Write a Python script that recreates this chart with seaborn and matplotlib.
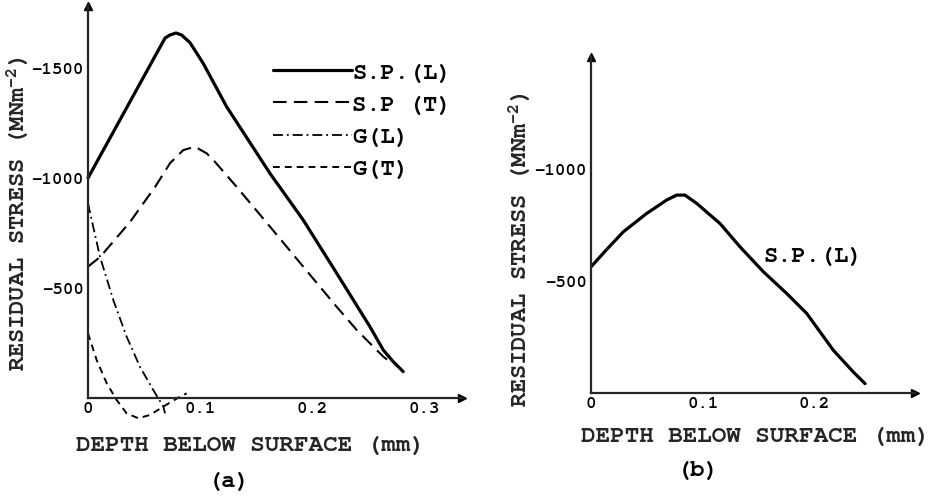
import numpy as np
import pandas as pd
import matplotlib
matplotlib.use("Agg")
import matplotlib.pyplot as plt
from matplotlib import font_manager as fm
import seaborn as sns
import logging
logging.getLogger("matplotlib.font_manager").setLevel(logging.ERROR)

# ---------------- data ----------------
# Panel (a): depth in mm, residual stress in MN m^-2 (compressive negative)
spl_a_depth = [0.000, 0.020, 0.040, 0.060, 0.0688, 0.0732, 0.0786, 0.0836, 0.0911,
               0.1029, 0.1238, 0.1625, 0.1922, 0.2221, 0.2518, 0.2637, 0.2726, 0.2815]
spl_a_stress = [-1000, -1185, -1370, -1555, -1636, -1650, -1659, -1650, -1615,
                -1521, -1324, -1021, -809, -567, -324, -218, -165, -120]

spt_a_depth = [0.000, 0.011, 0.0375, 0.060, 0.0732, 0.0851, 0.0955, 0.106, 0.1119,
               0.1327, 0.1625, 0.1922, 0.222, 0.240, 0.2637, 0.2696]
spt_a_stress = [-597, -642, -800, -960, -1067, -1127, -1142, -1112, -1082,
                -960, -779, -597, -415, -309, -188, -165]

gl_a_depth = [0.000, 0.0033, 0.0107, 0.0226, 0.0345, 0.0464, 0.0583, 0.0673, 0.0688]
gl_a_stress = [-885, -809, -642, -445, -279, -142, -36, 39, 70]

gt_a_depth = [0.000, 0.0077, 0.0167, 0.0256, 0.0345, 0.0449, 0.0554, 0.0673, 0.0821, 0.0881]
gt_a_stress = [-294, -173, -67, 9, 70, 92, 77, 39, -6, -21]

# Panel (b)
spl_b_depth = [0.000, 0.0134, 0.0289, 0.0498, 0.0677, 0.0767, 0.0841, 0.0946, 0.1155,
               0.1334, 0.1543, 0.1752, 0.1931, 0.2169, 0.2348, 0.2453]
spl_b_stress = [-564, -638, -720, -802, -862, -884, -884, -847, -757,
                -653, -542, -445, -356, -192, -95, -43]

series_labels_a = ["S.P.(L)", "S.P (T)", "G(L)", "G(T)"]
label_b = "S.P.(L)"

xticks_a = [0, 0.1, 0.2, 0.3]
xticklabels_a = ["0", "0.1", "0.2", "0.3"]
yticks_a = [-500, -1000, -1500]
yticklabels_a = ["\u2212500", "\u22121000", "\u22121500"]

xticks_b = [0, 0.1, 0.2]
xticklabels_b = ["0", "0.1", "0.2"]
yticks_b = [-500, -1000]
yticklabels_b = ["\u2212500", "\u22121000"]

ylabel_text = "RESIDUAL STRESS (MNm$^{\\mathrm{-2}}$)"
xlabel_text = "DEPTH BELOW SURFACE (mm)"

# ---------------- style ----------------
sns.set_style("white")
FAMILY = ["Courier New", "Nimbus Mono PS", "FreeMono", "Courier 10 Pitch",
          "Liberation Mono", "DejaVu Sans Mono"]
avail = {f.name for f in fm.fontManager.ttflist}
main_font = next((f for f in FAMILY if f in avail), "DejaVu Sans Mono")
plt.rcParams["font.family"] = FAMILY
plt.rcParams["font.weight"] = "bold"
plt.rcParams["axes.labelweight"] = "bold"
plt.rcParams["mathtext.fontset"] = "custom"
plt.rcParams["mathtext.rm"] = main_font + ":bold"
plt.rcParams["mathtext.it"] = main_font + ":bold"
plt.rcParams["mathtext.bf"] = main_font + ":bold"
plt.rcParams["axes.linewidth"] = 1.6
plt.rcParams["text.color"] = "black"
plt.rcParams["xtick.color"] = "black"
plt.rcParams["ytick.color"] = "black"

W, H = 934, 496
fig = plt.figure(figsize=(W / 100, H / 100), dpi=100)
fig.patch.set_facecolor("white")


def px_rect(x0, x1, y_top, y_bot):
    return [x0 / W, 1 - y_bot / H, (x1 - x0) / W, (y_bot - y_top) / H]


def style_axes(ax, xmax, ytop, ybot):
    ax.set_xlim(0, xmax)
    ax.set_ylim(ybot, ytop)
    ax.set_facecolor("none")
    for s in ["top", "right"]:
        ax.spines[s].set_visible(False)
    ax.spines["bottom"].set_position(("data", 0))
    ax.spines["bottom"].set_bounds(0, xmax)
    ax.spines["left"].set_bounds(ytop, 0)
    ax.tick_params(direction="in", length=5, width=1.3, labelsize=12.5, pad=3)
    ax.plot([0], [1], marker="^", ms=6, color="black",
            transform=ax.get_xaxis_transform(), clip_on=False)
    ax.plot([1], [0], marker=">", ms=6, color="black",
            transform=ax.get_yaxis_transform(), clip_on=False)


# ---------------- panel (a) ----------------
axA = fig.add_axes(px_rect(88, 462, 6.4, 431))
style_axes(axA, 0.334, -1780, 150)

dfa = [
    (spl_a_depth, spl_a_stress, "-", 2.3),
    (spt_a_depth, spt_a_stress, (0, (6.5, 3.5)), 1.5),
    (gl_a_depth, gl_a_stress, (0, (5.5, 2.2, 1.0, 2.2)), 1.3),
    (gt_a_depth, gt_a_stress, (0, (3.5, 2.6)), 1.4),
]
handles = []
for (d, s, ls, lw), lab in zip(dfa, series_labels_a):
    df = pd.DataFrame({"depth": d, "stress": s})
    sns.lineplot(data=df, x="depth", y="stress", ax=axA, sort=False, estimator=None,
                 color="black", linewidth=lw, linestyle=ls, label=lab, clip_on=False)
    handles.append(axA.get_lines()[-1])

axA.set_xticks(xticks_a)
axA.set_xticklabels(xticklabels_a)
axA.set_yticks(yticks_a)
axA.set_yticklabels(yticklabels_a)

axA.set_xlabel(xlabel_text, fontsize=17.5, va="center")
axA.xaxis.set_label_coords((251 - 88) / 374, 1 - (446 - 6.4) / 424.6)
axA.set_ylabel(ylabel_text, fontsize=17, va="center")
axA.yaxis.set_label_coords((18 - 88) / 374, 1 - (214 - 6.4) / 424.6)

axA.legend(handles, series_labels_a, loc="upper left",
           bbox_to_anchor=(273 / W, 1 - 62 / H), bbox_transform=fig.transFigure,
           frameon=False, handlelength=3.35, handletextpad=0.0, borderpad=0,
           borderaxespad=0, labelspacing=0.45, fontsize=17)

# ---------------- panel (b) ----------------
axB = fig.add_axes(px_rect(591, 915, 57, 400))
style_axes(axB, 0.29, -1500, 30)

dfb = pd.DataFrame({"depth": spl_b_depth, "stress": spl_b_stress})
sns.lineplot(data=dfb, x="depth", y="stress", ax=axB, sort=False, estimator=None,
             color="black", linewidth=2.3, legend=False)
axB.set_xticks(xticks_b)
axB.set_xticklabels(xticklabels_b)
axB.set_yticks(yticks_b)
axB.set_yticklabels(yticklabels_b)
axB.text(0.154, -607, label_b, fontsize=17, ha="left", va="center")

axB.set_xlabel(xlabel_text, fontsize=17.5, va="center")
axB.xaxis.set_label_coords((756 - 591) / 324, 1 - (437 - 57) / 343)
axB.set_ylabel(ylabel_text, fontsize=17, va="center")
axB.yaxis.set_label_coords((520 - 591) / 324, 1 - (250 - 57) / 343)

fig.text(229 / W, 1 - 482 / H, "(a)", fontsize=17, ha="center", va="center")
fig.text(698 / W, 1 - 471 / H, "(b)", fontsize=17, ha="center", va="center")

fig.savefig("out.png", dpi=100, facecolor="white")
